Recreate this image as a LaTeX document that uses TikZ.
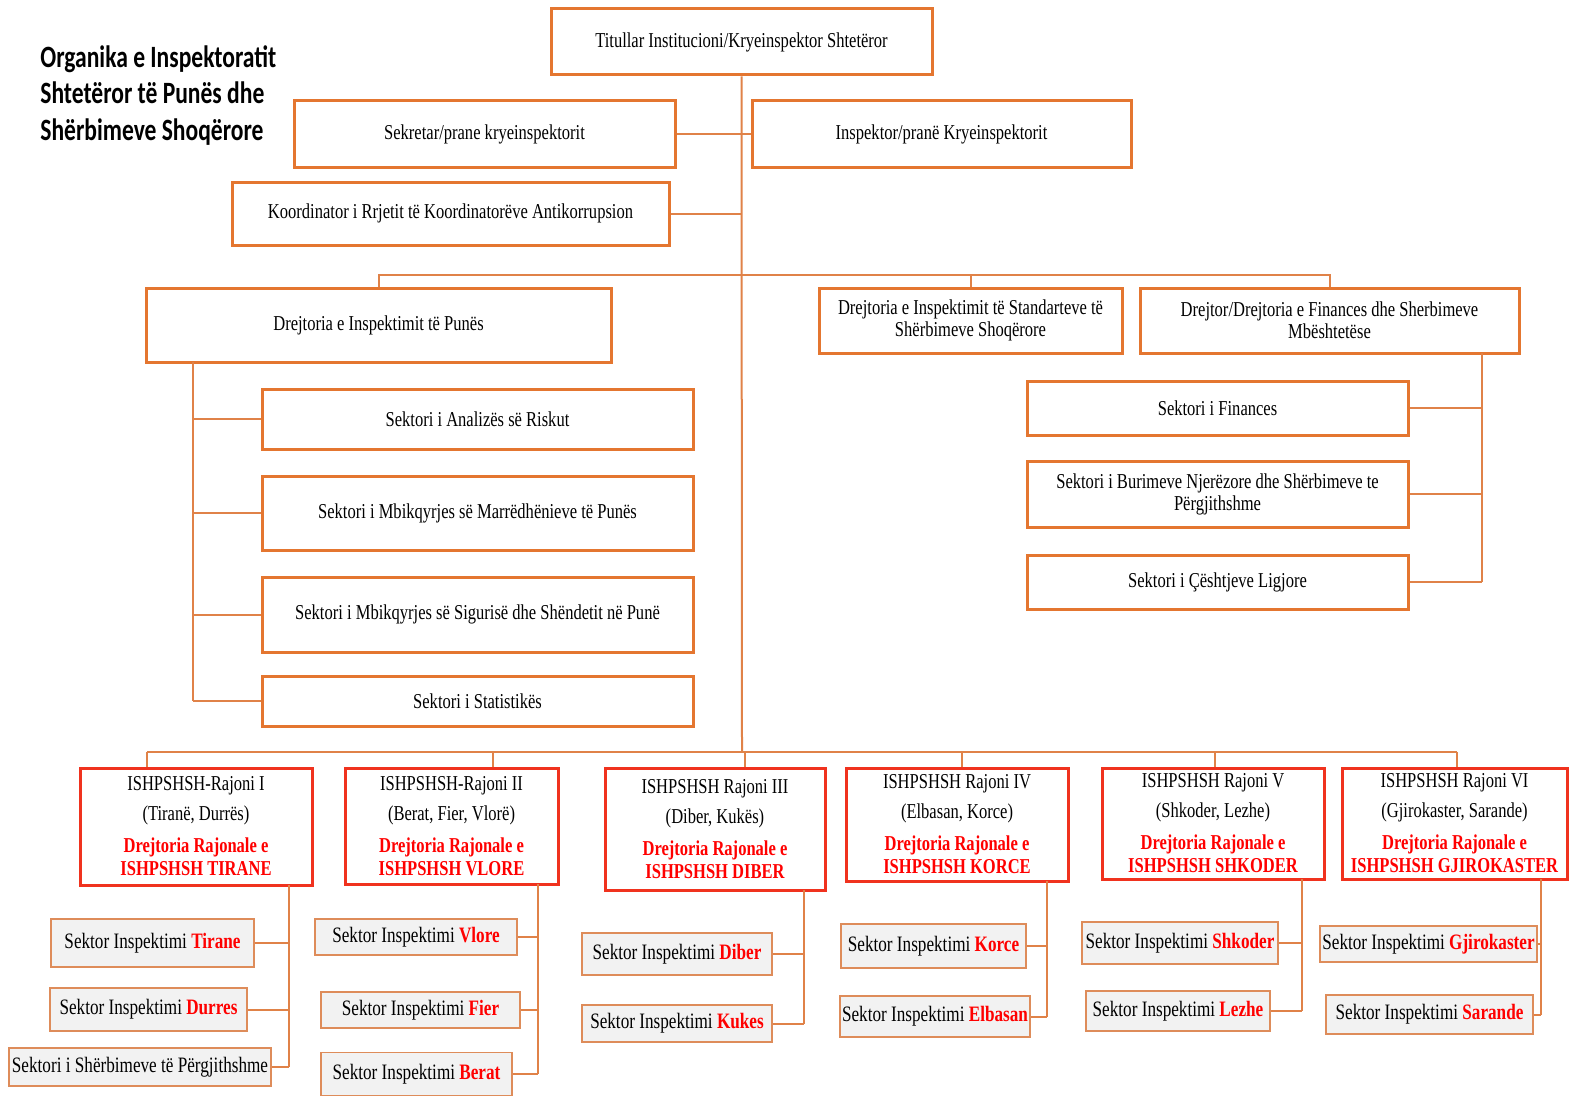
\documentclass[tikz,border=0pt]{standalone}
\usepackage{fontspec}
\setmainfont{Liberation Serif}[FakeStretch=0.78]
\newfontfamily\titlefont{Carlito}[FakeStretch=0.76]

\definecolor{boxorange}{RGB}{228,118,48}
\definecolor{linkorange}{RGB}{224,130,72}
\definecolor{sekorange}{RGB}{222,140,90}
\definecolor{regred}{RGB}{240,50,30}
\definecolor{sekgray}{RGB}{242,242,242}
\definecolor{txtred}{RGB}{255,0,0}

\newcommand{\qyteti}[1]{\textcolor{txtred}{\bfseries #1}}

\begin{document}
\begin{tikzpicture}[x=0.5pt, y=-0.5pt,
    sz/.style 2 args={minimum width=#1*0.5pt, minimum height=#2*0.5pt},
    mainbox/.style={draw=boxorange, line width=1.5pt, fill=white, inner sep=1pt, align=center, font=\fontsize{10.6}{11}\selectfont},
    regbox/.style={draw=regred, line width=1.5pt, fill=white, inner sep=1pt, align=center, font=\fontsize{10.6}{11.5}\selectfont},
    sektor/.style={draw=sekorange, line width=0.9pt, fill=sekgray, inner sep=1pt, font=\fontsize{11}{12}\selectfont},
    titel/.style={align=left, inner sep=0pt, font=\titlefont\fontsize{15.5}{18.3}\bfseries\selectfont},
    link/.style={draw=linkorange, line width=1pt}]
    \useasboundingbox (0,0) rectangle (1573,1097);

    % Title
    \node[titel, anchor=north west] (titulli) at (40,45) {Organika e Inspektoratit\\Shtetëror të Punës dhe\\Shërbimeve Shoqërore};

    % Head and staff
    \node[mainbox, sz={381}{66}] (titullar) at (741.5,42) {Titullar Institucioni/Kryeinspektor Shtetëror};
    \node[mainbox, sz={381}{66}] (sekretar) at (484.5,134) {Sekretar/prane kryeinspektorit};
    \node[mainbox, sz={379}{66}] (inspektor) at (941.5,134) {Inspektor/pranë Kryeinspektorit};
    \node[mainbox, sz={437}{63}] (koordinator) at (450.5,213.5) {Koordinator i Rrjetit të Koordinatorëve Antikorrupsion};

    % Directorates
    \node[mainbox, sz={465}{74}] (drejPune) at (378.5,325) {Drejtoria e Inspektimit të Punës};
    \node[mainbox, sz={303}{65}] (drejStd) at (970.5,320.5) {Drejtoria e Inspektimit të Standarteve të\\Shërbimeve Shoqërore};
    \node[mainbox, sz={379}{65}] (drejFin) at (1329.5,320.5) {Drejtor/Drejtoria e Finances dhe Sherbimeve\\Mbështetëse};

    % Sectors of the labour directorate
    \node[mainbox, sz={431}{60}] (sekRisk) at (477.5,419) {Sektori i Analizës së Riskut};
    \node[mainbox, sz={431}{74}] (sekMarr) at (477.5,513) {Sektori i Mbikqyrjes së Marrëdhënieve të Punës};
    \node[mainbox, sz={431}{75}] (sekSig) at (477.5,614.5) {Sektori i Mbikqyrjes së Sigurisë dhe Shëndetit në Punë};
    \node[mainbox, sz={431}{50}] (sekStat) at (477.5,701) {Sektori i Statistikës};

    % Sectors of the finance directorate
    \node[mainbox, sz={381}{54}] (sekFin) at (1217.5,408) {Sektori i Finances};
    \node[mainbox, sz={381}{66}] (sekBur) at (1217.5,494) {Sektori i Burimeve Njerëzore dhe Shërbimeve te\\Përgjithshme};
    \node[mainbox, sz={381}{54}] (sekLig) at (1217.5,582) {Sektori i Çështjeve Ligjore};

    % Regional directorates
    \node[regbox, sz={232}{117}] (raj1) at (196,826.5) {ISHPSHSH-Rajoni I\\[3.5pt](Tiranë, Durrës)\\[4.5pt]\qyteti{Drejtoria Rajonale e}\\\qyteti{ISHPSHSH TIRANE}};
    \node[regbox, sz={213}{116}] (raj2) at (451.5,826) {ISHPSHSH-Rajoni II\\[3.5pt](Berat, Fier, Vlorë)\\[4.5pt]\qyteti{Drejtoria Rajonale e}\\\qyteti{ISHPSHSH VLORE}};
    \node[regbox, sz={220}{122}] (raj3) at (715,829) {ISHPSHSH Rajoni III\\[3.5pt](Diber, Kukës)\\[4.5pt]\qyteti{Drejtoria Rajonale e}\\\qyteti{ISHPSHSH DIBER}};
    \node[regbox, sz={222}{113}] (raj4) at (957,824.5) {ISHPSHSH Rajoni IV\\[3.5pt](Elbasan, Korce)\\[4.5pt]\qyteti{Drejtoria Rajonale e}\\\qyteti{ISHPSHSH KORCE}};
    \node[regbox, sz={222}{111}] (raj5) at (1213,823.5) {ISHPSHSH Rajoni V\\[3.5pt](Shkoder, Lezhe)\\[4.5pt]\qyteti{Drejtoria Rajonale e}\\\qyteti{ISHPSHSH SHKODER}};
    \node[regbox, sz={225}{111}] (raj6) at (1454.5,823.5) {ISHPSHSH Rajoni VI\\[3.5pt](Gjirokaster, Sarande)\\[4.5pt]\qyteti{Drejtoria Rajonale e}\\\qyteti{ISHPSHSH GJIROKASTER}};

    % Regional sectors
    \node[sektor, sz={203}{48}] (sTirane) at (152.5,943) {Sektor Inspektimi \qyteti{Tirane}};
    \node[sektor, sz={197}{43}] (sDurres) at (148.5,1009.5) {Sektor Inspektimi \qyteti{Durres}};
    \node[sektor, sz={262}{38}] (sSherb) at (140,1067) {Sektori i Shërbimeve të Përgjithshme};
    \node[sektor, sz={202}{36}] (sVlore) at (416,937) {Sektor Inspektimi \qyteti{Vlore}};
    \node[sektor, sz={199}{36}] (sFier) at (420.5,1010) {Sektor Inspektimi \qyteti{Fier}};
    \node[sektor, sz={191}{43}] (sBerat) at (416.5,1074) {Sektor Inspektimi \qyteti{Berat}};
    \node[sektor, sz={190}{42}] (sDiber) at (677,954) {Sektor Inspektimi \qyteti{Diber}};
    \node[sektor, sz={190}{37}] (sKukes) at (677,1023.5) {Sektor Inspektimi \qyteti{Kukes}};
    \node[sektor, sz={185}{44}] (sKorce) at (933.5,946) {Sektor Inspektimi \qyteti{Korce}};
    \node[sektor, sz={184}{41}] (sElbasan) at (935,1016.5) {Sektor Inspektimi \qyteti{Elbasan}};
    \node[sektor, sz={196}{42}] (sShkoder) at (1180,943) {Sektor Inspektimi \qyteti{Shkoder}};
    \node[sektor, sz={184}{40}] (sLezhe) at (1178,1011) {Sektor Inspektimi \qyteti{Lezhe}};
    \node[sektor, sz={213}{36}] (sGjiro) at (1428.5,944) {Sektor Inspektimi \qyteti{Gjirokaster}};
    \node[sektor, sz={207}{39}] (sSarande) at (1429.5,1014.5) {Sektor Inspektimi \qyteti{Sarande}};

    % Bus and spine points
    \coordinate (busTop) at (742,275);
    \coordinate (busBot) at (742,752);
    \coordinate (spineL) at (193,362);
    \coordinate (spineR) at (1482,353);
    \coordinate (d1) at (147,752);
    \coordinate (d2) at (493,752);
    \coordinate (d3) at (745,752);
    \coordinate (d4) at (962,752);
    \coordinate (d5) at (1215,752);
    \coordinate (d6) at (1457,752);
    \coordinate (sp1) at (289,885);
    \coordinate (sp2) at (538,884);
    \coordinate (sp3) at (804,890);
    \coordinate (sp4) at (1047,881);
    \coordinate (sp5) at (1302,879);
    \coordinate (sp6) at (1541,879);

    % Trunk and staff links
    \draw[link] (titullar.south) -- (busBot);
    \draw[link] (sekretar.east) -- (sekretar.east -| titullar.south);
    \draw[link] (inspektor.west) -- (inspektor.west -| titullar.south);
    \draw[link] (koordinator.east) -- (koordinator.east -| titullar.south);

    % Directorates
    \draw[link] (drejPune.north) |- (busTop) -| (drejFin.north);
    \draw[link] (drejStd.north) -- (drejStd.north |- busTop);
    \draw[link] (spineL) -- (spineL |- sekStat.west);
    \foreach \s in {sekRisk,sekMarr,sekSig,sekStat}
        \draw[link] (\s.west) -- (\s.west -| spineL);
    \draw[link] (spineR) -- (spineR |- sekLig.east);
    \foreach \s in {sekFin,sekBur,sekLig}
        \draw[link] (\s.east) -- (\s.east -| spineR);

    % Regions
    \draw[link] (d1) -- (d6);
    \foreach \d/\r in {d1/raj1,d2/raj2,d3/raj3,d4/raj4,d5/raj5,d6/raj6}
        \draw[link] (\d) -- (\d |- \r.north);
    \foreach \p/\s in {sp1/sSherb,sp2/sBerat,sp3/sKukes,sp4/sElbasan,sp5/sLezhe,sp6/sSarande}
        \draw[link] (\p) -- (\p |- \s.east);
    \foreach \s/\p in {sTirane/sp1,sDurres/sp1,sSherb/sp1,sVlore/sp2,sFier/sp2,sBerat/sp2,sDiber/sp3,sKukes/sp3,sKorce/sp4,sElbasan/sp4,sShkoder/sp5,sLezhe/sp5,sGjiro/sp6,sSarande/sp6}
        \draw[link] (\s.east) -- (\s.east -| \p);
\end{tikzpicture}
\end{document}
